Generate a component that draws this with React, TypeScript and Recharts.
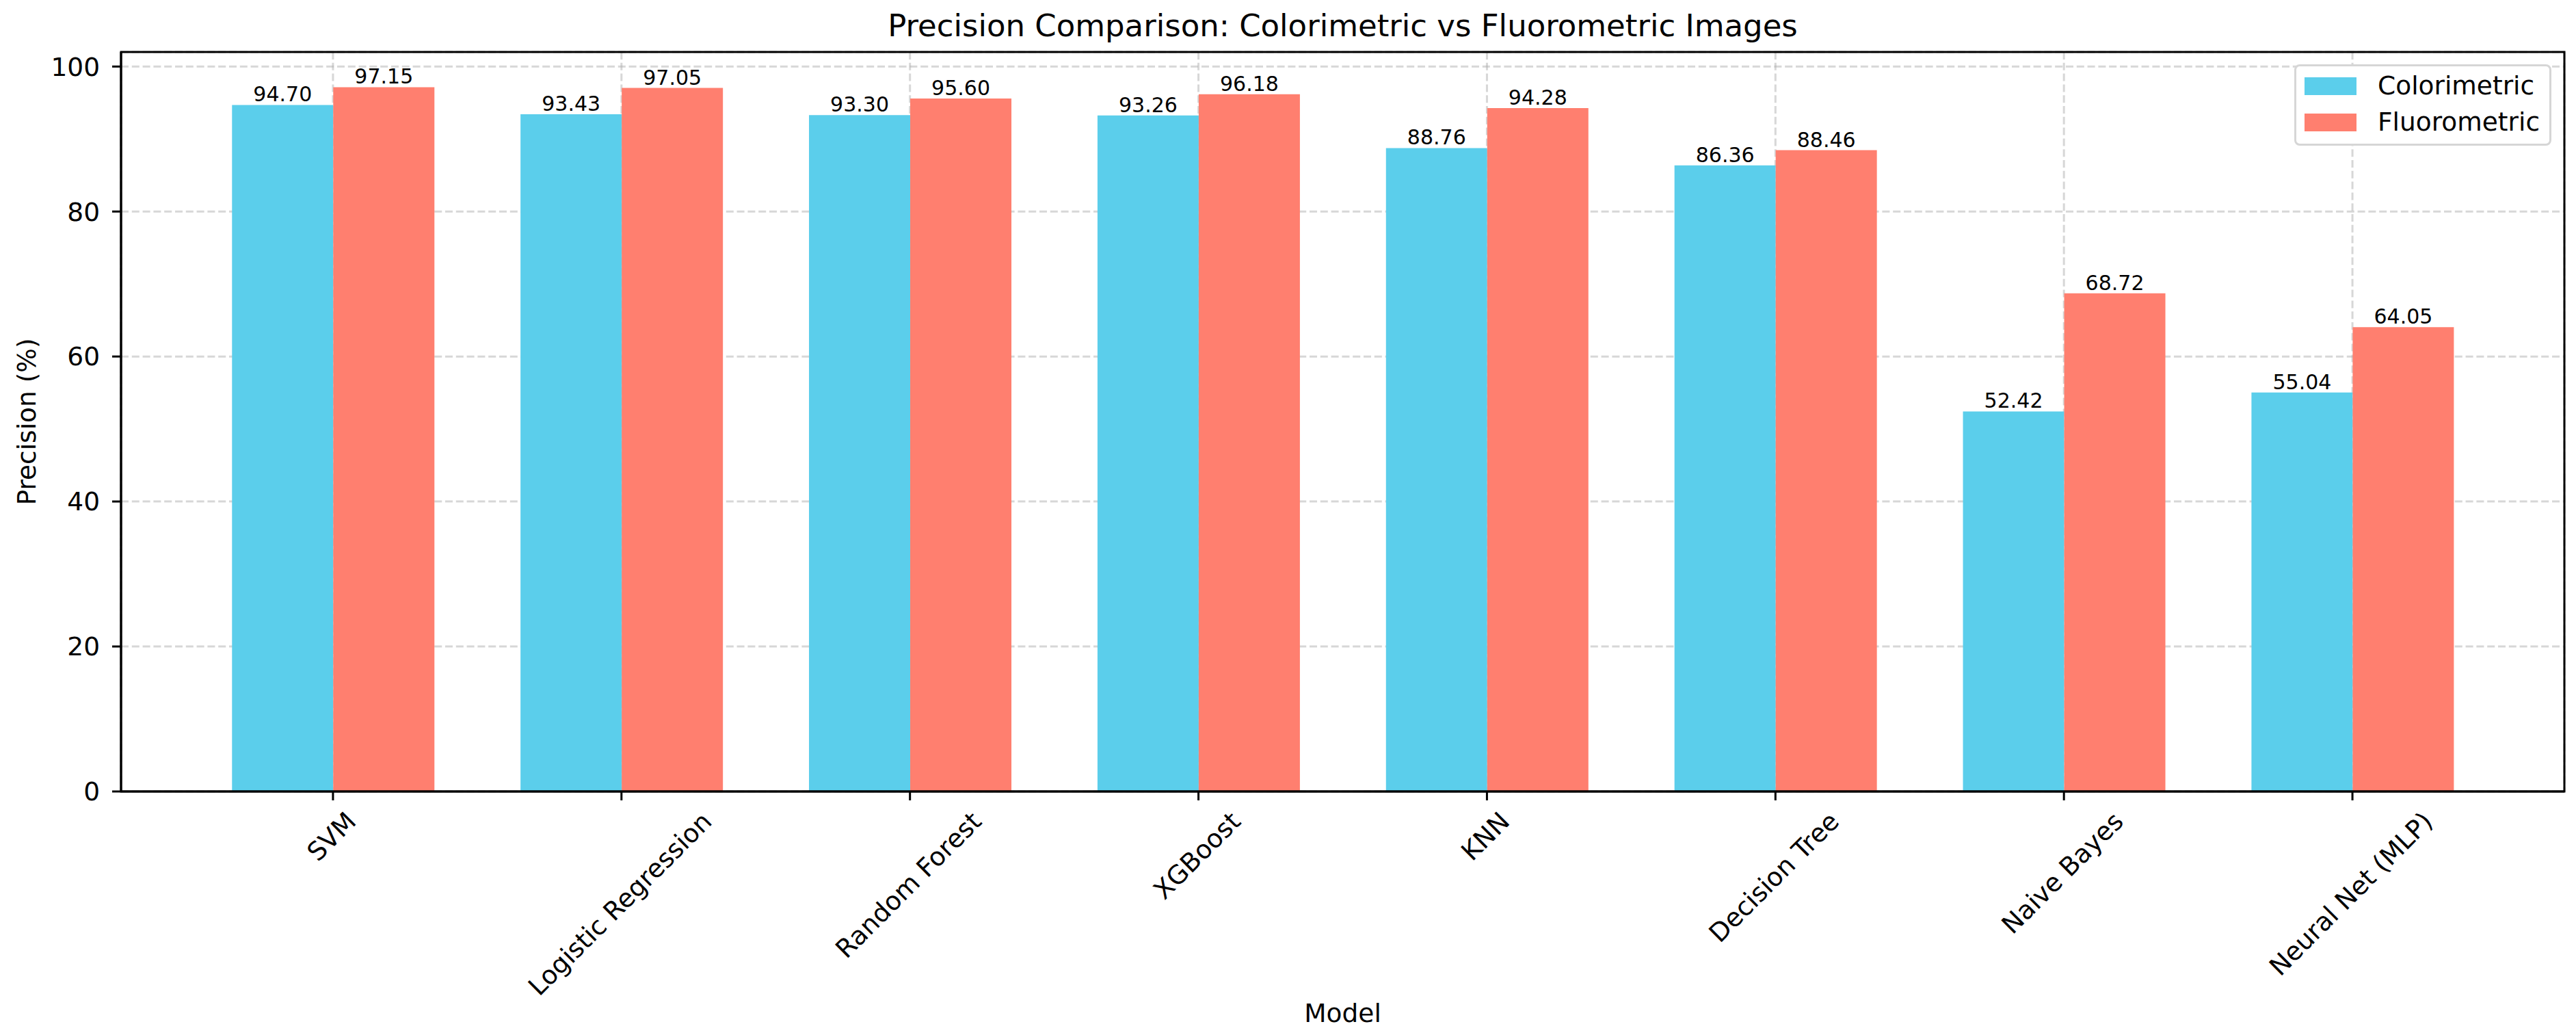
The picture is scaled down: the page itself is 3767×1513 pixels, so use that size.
import React from 'react';
import { BarChart, Bar, XAxis, YAxis, CartesianGrid, Legend, LabelList } from 'recharts';

// data
const models = [
  'SVM',
  'Logistic Regression',
  'Random Forest',
  'XGBoost',
  'KNN',
  'Decision Tree',
  'Naive Bayes',
  'Neural Net (MLP)',
];
const colorimetric = [94.7, 93.43, 93.3, 93.26, 88.76, 86.36, 52.42, 55.04];
const fluorometric = [97.15, 97.05, 95.6, 96.18, 94.28, 88.46, 68.72, 64.05];
const yTicks = [0, 20, 40, 60, 80, 100];
const yMax = 97.15 * 1.05;

const W = 3767;
const H = 1513;
const FONT = '"DejaVu Sans", sans-serif';
const LW = 3;
const BLUE = '#5BCEEB';
const RED = '#FF7F6F';
const TICK_FONT = 37.5;
const TITLE_FONT = 45;
const VALUE_FONT = 30;

// plot box
const MARGIN = { top: 76, right: 17, bottom: 56, left: 77 };
const Y_AXIS_W = 100;
const X_AXIS_H = 300;
const PLOT_L = MARGIN.left + Y_AXIS_W;
const PLOT_T = MARGIN.top;
const PLOT_R = W - MARGIN.right;
const PLOT_B = H - MARGIN.bottom - X_AXIS_H;
const PLOT_CX = (PLOT_L + PLOT_R) / 2;
const PLOT_CY = (PLOT_T + PLOT_B) / 2;

const data = models.map((m, i) => ({
  model: m,
  colorimetric: colorimetric[i],
  fluorometric: fluorometric[i],
}));

let ctx: CanvasRenderingContext2D | null = null;
function textWidth(s: string, size: number) {
  if (!ctx) ctx = document.createElement('canvas').getContext('2d');
  if (!ctx) return s.length * size * 0.6;
  ctx.font = `${size}px "DejaVu Sans"`;
  return ctx.measureText(s).width;
}

/** 45° rotated label, centred under the tick like matplotlib's ha='center' */
function RotatedTick(props: any) {
  const { x, y, payload } = props;
  const label = String(payload.value);
  const w = textWidth(label, TICK_FONT);
  const half = (w + TICK_FONT) / (2 * Math.SQRT2);
  return (
    <g transform={`translate(${x},${y + half}) rotate(-45)`}>
      <text textAnchor="middle" y={TICK_FONT * 0.262} fontSize={TICK_FONT} fontFamily={FONT} fill="#000">
        {label}
      </text>
    </g>
  );
}

function LegendBox(props: any) {
  const items = (props.payload || []).map((p: any) => ({ label: p.value, color: p.color }));
  return (
    <div
      style={{
        boxSizing: 'border-box',
        width: 376,
        height: 119,
        border: `${LW}px solid #d6d6d6`,
        borderRadius: 8,
        background: '#fff',
        paddingTop: 2,
        fontFamily: FONT,
      }}
    >
      {items.map((it: any) => (
        <div key={it.label} style={{ display: 'flex', alignItems: 'center', height: 53 }}>
          <div style={{ width: 76, height: 26, background: it.color, marginLeft: 12 }} />
          <span style={{ marginLeft: 31, fontSize: TICK_FONT, lineHeight: `${TICK_FONT}px`, color: '#000' }}>
            {it.label}
          </span>
        </div>
      ))}
    </div>
  );
}

const fmt = (v: any) => Number(v).toFixed(2);

export default function App() {
  const axisLine = { stroke: '#000', strokeWidth: LW };
  return (
    <div style={{ position: 'absolute', left: 0, top: 0, width: W, height: H, background: '#fff', fontFamily: FONT }}>
      <BarChart width={W} height={H} data={data} margin={MARGIN} barCategoryGap="15%" barGap={0}>
        <XAxis
          dataKey="model"
          interval={0}
          height={X_AXIS_H}
          tickSize={13}
          tickMargin={13}
          tick={<RotatedTick />}
          tickLine={axisLine}
          axisLine={axisLine}
          padding={{ left: 99, right: 99 }}
        />
        <YAxis
          width={Y_AXIS_W}
          domain={[0, yMax]}
          ticks={yTicks}
          tickSize={13}
          tickMargin={18}
          tick={{ fill: '#000', fontSize: TICK_FONT, fontFamily: FONT }}
          tickLine={axisLine}
          axisLine={axisLine}
        />
        <Bar dataKey="colorimetric" name="Colorimetric" fill={BLUE} isAnimationActive={false}>
          <LabelList
            dataKey="colorimetric"
            position="top"
            offset={5}
            formatter={fmt}
            fill="#000"
            fontSize={VALUE_FONT}
            fontFamily={FONT}
          />
        </Bar>
        <Bar dataKey="fluorometric" name="Fluorometric" fill={RED} isAnimationActive={false}>
          <LabelList
            dataKey="fluorometric"
            position="top"
            offset={5}
            formatter={fmt}
            fill="#000"
            fontSize={VALUE_FONT}
            fontFamily={FONT}
          />
        </Bar>
        <CartesianGrid stroke="#b0b0b0" strokeOpacity={0.5} strokeDasharray="11 4.8" strokeWidth={LW} />
        <Legend
          layout="vertical"
          align="center"
          verticalAlign="middle"
          content={<LegendBox />}
          wrapperStyle={{ left: 3355, top: 94, width: 376, height: 119 }}
        />
      </BarChart>
      <svg
        width={W}
        height={H}
        style={{ position: 'absolute', left: 0, top: 0, pointerEvents: 'none' }}
        fontFamily={FONT}
      >
        {/* axes frame (matplotlib spines) */}
        <rect
          x={PLOT_L}
          y={PLOT_T}
          width={PLOT_R - PLOT_L}
          height={PLOT_B - PLOT_T}
          fill="none"
          stroke="#000"
          strokeWidth={LW}
        />
        <text x={PLOT_CX} y={53} textAnchor="middle" fontSize={TITLE_FONT} fill="#000">
          Precision Comparison: Colorimetric vs Fluorometric Images
        </text>
        <text x={PLOT_CX} y={1494} textAnchor="middle" fontSize={TICK_FONT} fill="#000">
          Model
        </text>
        <text
          transform={`translate(52,${PLOT_CY}) rotate(-90)`}
          textAnchor="middle"
          fontSize={TICK_FONT}
          fill="#000"
        >
          Precision (%)
        </text>
      </svg>
    </div>
  );
}
